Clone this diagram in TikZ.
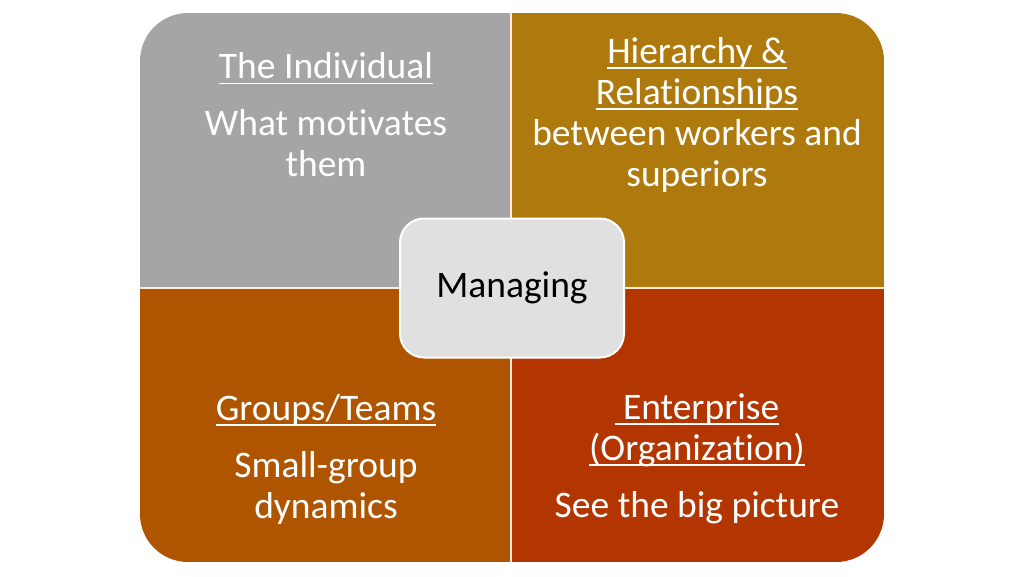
\documentclass[tikz,border=0pt]{standalone}
\usepackage{fontspec}
\setmainfont[Ligatures=NoCommon]{Carlito}
\usetikzlibrary{positioning}

\definecolor{quadgray}{HTML}{A5A5A5}
\definecolor{quadgold}{HTML}{AE7A0E}
\definecolor{quadbrown}{HTML}{AF5500}
\definecolor{quadred}{HTML}{B33500}
\definecolor{hubfill}{HTML}{E0E0E0}

% underline with a heavier rule
\newcommand{\ulbar}[1]{\setbox0\hbox{#1}\rlap{\rule[-5.5pt]{\wd0}{1.8pt}}\box0}

\tikzset{
    quadtext/.style={text=white, align=center, font=\fontsize{37.5}{41}\selectfont, inner sep=0pt},
    hubbox/.style={fill=hubfill, draw=white, line width=2pt, rounded corners=24pt,
        minimum width=224pt, minimum height=139pt, font=\fontsize{37.5}{41}\selectfont}
}

\begin{document}
\begin{tikzpicture}[x=1pt, y=-1pt]

    \useasboundingbox (0,0) rectangle (1024,576);

    % quadrants
    \begin{scope}
        \clip[rounded corners=48pt] (140,13) rectangle (884,562);
        \fill[quadgray]  (140,13)  rectangle (511,288);
        \fill[quadgold]  (511,13)  rectangle (884,288);
        \fill[quadbrown] (140,288) rectangle (511,562);
        \fill[quadred]   (511,288) rectangle (884,562);
        \draw[white!85!orange, line width=1.5pt] (511,13) -- (511,562);
        \draw[white!85!orange, line width=1.5pt] (140,288) -- (884,288);
    \end{scope}

    \node[quadtext] (ind) at (326,115) {\ulbar{The Individual}\\[16pt] What motivates\\ them};
    \node[quadtext] (hier) at (697,115) {\ulbar{Hierarchy \&}\\ \ulbar{Relationships}\\ between workers and\\ superiors};
    \node[quadtext] (grp) at (326,459) {\ulbar{Groups/Teams}\\[16pt] Small-group\\ dynamics};
    \node[quadtext] (ent) at (697,459) {\ulbar{\hspace{0.22em}Enterprise}\\ \ulbar{(Organization)}\\[16pt] See the big picture};

    \node[hubbox] (mng) at (512,288) {Managing};

\end{tikzpicture}
\end{document}
